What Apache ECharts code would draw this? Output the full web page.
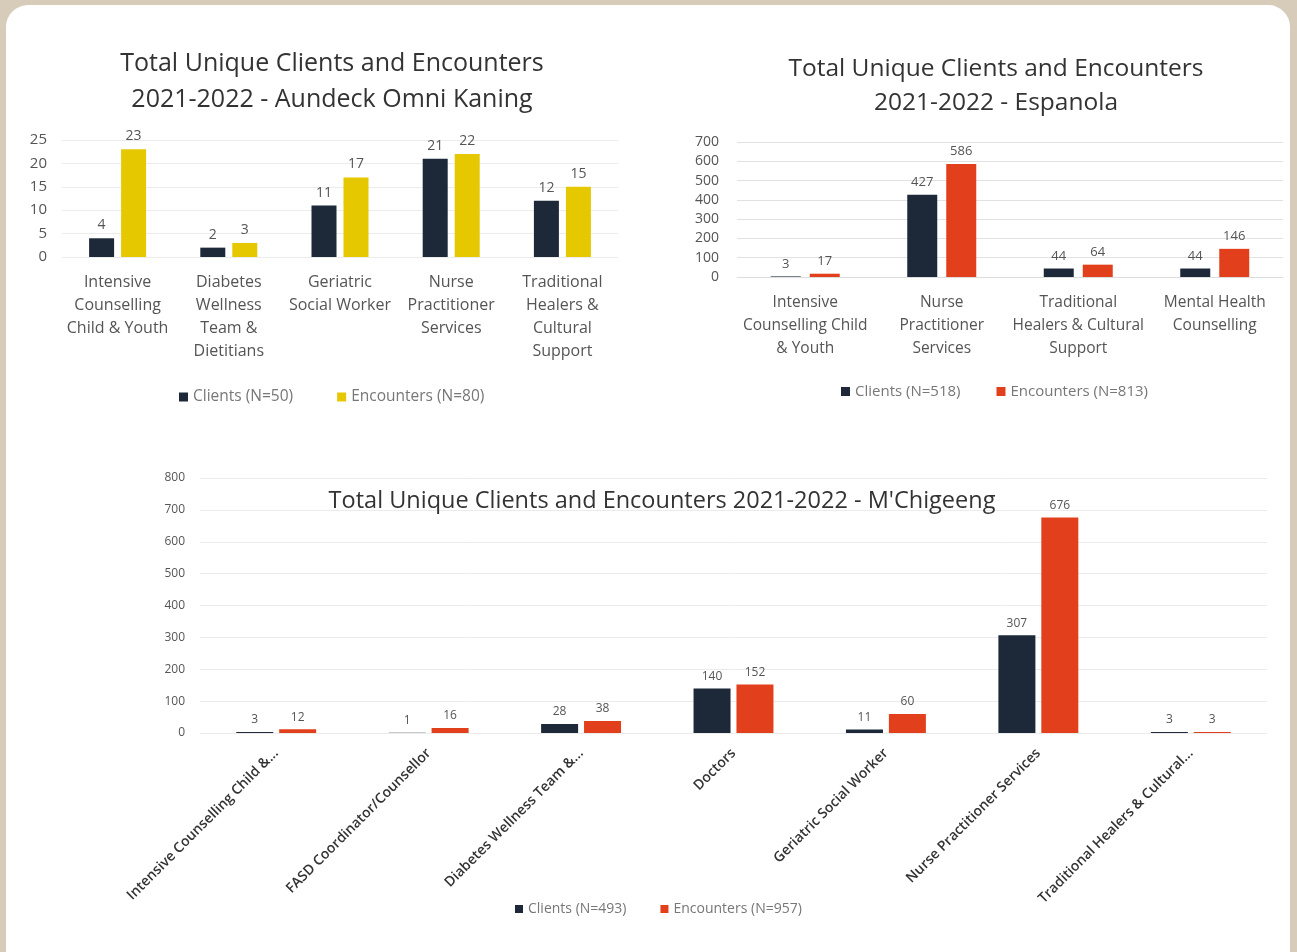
<!DOCTYPE html>
<html>
<head>
<meta charset="utf-8">
<title>Total Unique Clients and Encounters 2021-2022</title>
<script src="https://cdn.jsdelivr.net/npm/echarts@6/dist/echarts.min.js"></script>
<style>
  html, body { margin: 0; padding: 0; width: 1297px; height: 952px; overflow: hidden; background: #d6ccb9; }
  #panel { position: absolute; left: 6px; top: 5px; width: 1284px; height: 980px; background: #ffffff; border-radius: 22px; }
  #chart { position: absolute; left: 0; top: 0; width: 1297px; height: 952px; }
</style>
</head>
<body>
<div id="panel"></div>
<div id="chart"></div>
<script>
// Aundeck Omni Kaning
const aokCategories = [
  'Intensive\nCounselling\nChild & Youth',
  'Diabetes\nWellness\nTeam &\nDietitians',
  'Geriatric\nSocial Worker',
  'Nurse\nPractitioner\nServices',
  'Traditional\nHealers &\nCultural\nSupport'
];
const aokClients = [4, 2, 11, 21, 12];
const aokEncounters = [23, 3, 17, 22, 15];
const aokTicks = { min: 0, max: 25, interval: 5 };

// Espanola
const espCategories = [
  'Intensive\nCounselling Child\n& Youth',
  'Nurse\nPractitioner\nServices',
  'Traditional\nHealers & Cultural\nSupport',
  'Mental Health\nCounselling'
];
const espClients = [3, 427, 44, 44];
const espEncounters = [17, 586, 64, 146];
const espTicks = { min: 0, max: 700, interval: 100 };

// M'Chigeeng
const mchCategories = [
  'Intensive Counselling Child &...',
  'FASD Coordinator/Counsellor',
  'Diabetes Wellness Team &...',
  'Doctors',
  'Geriatric Social Worker',
  'Nurse Practitioner Services',
  'Traditional Healers & Cultural...'
];
const mchClients = [3, 1, 28, 140, 11, 307, 3];
const mchEncounters = [12, 16, 38, 152, 60, 676, 3];
const mchTicks = { min: 0, max: 800, interval: 100 };

const seriesNames = {
  aokClients: 'Clients (N=50)', aokEncounters: 'Encounters (N=80)',
  espClients: 'Clients (N=518)', espEncounters: 'Encounters (N=813)',
  mchClients: 'Clients (N=493)', mchEncounters: 'Encounters (N=957)'
};

const NAVY = '#1d2939';
const YELLOW = '#e6c800';
const RED = '#e2401d';
const FONT = '"Open Sans", "Noto Sans", sans-serif';

const chart = echarts.init(document.getElementById('chart'), null, { renderer: 'canvas' });

function yAxis(gridIndex, ticks, fontSize, gridColor, margin) {
  return {
    type: 'value', gridIndex, min: ticks.min, max: ticks.max, interval: ticks.interval,
    axisLine: { show: false }, axisTick: { show: false },
    axisLabel: { color: '#555', fontSize, fontFamily: FONT, margin },
    splitLine: { lineStyle: { color: gridColor, width: 1 } }
  };
}

function barSeries(name, data, color, axisIdx, width, gap, labelSize) {
  return {
    type: 'bar', name, data, xAxisIndex: axisIdx, yAxisIndex: axisIdx,
    barWidth: width, barGap: gap,
    itemStyle: { color },
    label: { show: true, position: 'top', color: '#555', fontSize: labelSize, fontFamily: FONT, distance: 6 }
  };
}

const titleStyle = (size, lh) => ({ fontSize: size, fontWeight: 'normal', color: '#333', lineHeight: lh, fontFamily: FONT });
const legendText = (size) => ({ color: '#777', fontSize: size, fontFamily: FONT });

const option = {
  animation: false,
  textStyle: { fontFamily: FONT },
  title: [
    {
      text: 'Total Unique Clients and Encounters\n2021-2022 - Aundeck Omni Kaning',
      left: 327, top: 41, textAlign: 'center', textStyle: titleStyle(25, 36)
    },
    {
      text: 'Total Unique Clients and Encounters\n2021-2022 - Espanola',
      left: 991, top: 47, textAlign: 'center', textStyle: titleStyle(24.5, 34)
    },
    {
      text: "Total Unique Clients and Encounters 2021-2022 - M'Chigeeng",
      left: 657, top: 481, textAlign: 'center', textStyle: titleStyle(23.5, 30)
    }
  ],
  legend: [
    {
      data: [seriesNames.aokClients, seriesNames.aokEncounters],
      left: 174, top: 384, itemWidth: 9, itemHeight: 9, itemGap: 44, icon: 'rect',
      textStyle: legendText(15.5), selectedMode: false
    },
    {
      data: [seriesNames.espClients, seriesNames.espEncounters],
      left: 836, top: 379, itemWidth: 9, itemHeight: 9, itemGap: 36, icon: 'rect',
      textStyle: legendText(15), selectedMode: false
    },
    {
      data: [seriesNames.mchClients, seriesNames.mchEncounters],
      left: 510, top: 897, itemWidth: 8, itemHeight: 8, itemGap: 34, icon: 'rect',
      textStyle: legendText(14), selectedMode: false
    }
  ],
  grid: [
    { left: 62, top: 140, width: 556, height: 117 },
    { left: 737, top: 142, width: 546, height: 135 },
    { left: 200, top: 478, width: 1067, height: 255 }
  ],
  xAxis: [
    {
      type: 'category', gridIndex: 0, data: aokCategories,
      axisLine: { show: false }, axisTick: { show: false },
      axisLabel: { interval: 0, color: '#555', fontSize: 16, lineHeight: 23, margin: 14, fontFamily: FONT }
    },
    {
      type: 'category', gridIndex: 1, data: espCategories,
      axisLine: { show: true, lineStyle: { color: '#ddd' } }, axisTick: { show: false },
      axisLabel: { interval: 0, color: '#555', fontSize: 15.5, lineHeight: 23, margin: 14, fontFamily: FONT }
    },
    {
      type: 'category', gridIndex: 2, data: mchCategories,
      axisLine: { show: false }, axisTick: { show: false },
      axisLabel: { interval: 0, rotate: 45, color: '#333', fontSize: 14, fontWeight: 600, margin: 18, fontFamily: FONT }
    }
  ],
  yAxis: [
    yAxis(0, aokTicks, 15, '#ececec', 15),
    yAxis(1, espTicks, 14, '#e2e2e2', 18),
    yAxis(2, mchTicks, 12, '#ebebeb', 15)
  ],
  series: [
    barSeries(seriesNames.aokClients, aokClients, NAVY, 0, 25, '28%', 14),
    barSeries(seriesNames.aokEncounters, aokEncounters, YELLOW, 0, 25, '28%', 14),
    barSeries(seriesNames.espClients, espClients, NAVY, 1, 30, '30%', 13),
    barSeries(seriesNames.espEncounters, espEncounters, RED, 1, 30, '30%', 13),
    barSeries(seriesNames.mchClients, mchClients, NAVY, 2, 37, '16%', 12),
    barSeries(seriesNames.mchEncounters, mchEncounters, RED, 2, 37, '16%', 12)
  ]
};

chart.setOption(option);
</script>
</body>
</html>
